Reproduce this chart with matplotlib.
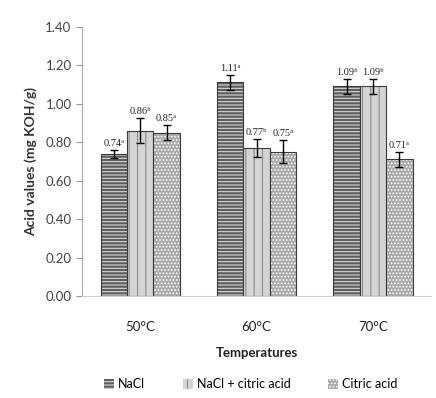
import matplotlib.pyplot as plt
import numpy as np
from matplotlib.patches import Patch

temps = ["50°C", "60°C", "70°C"]
series = ["NaCl", "NaCl + citric acid", "Citric acid"]
nacl = [0.74, 1.11, 1.09]
nacl_citric = [0.86, 0.77, 1.09]
citric = [0.85, 0.75, 0.71]
nacl_err = [0.02, 0.04, 0.04]
nacl_citric_err = [0.065, 0.045, 0.04]
citric_err = [0.04, 0.06, 0.04]
nacl_lbl = ["0.74ᵃ", "1.11ᵃ", "1.09ᵇ"]
nacl_citric_lbl = ["0.86ᵇ", "0.77ᵇ", "1.09ᵇ"]
citric_lbl = ["0.85ᵃ", "0.75ᵃ", "0.71ᵃ"]

styles = [
    dict(face="#5e5e5e", hatch="-----", hcolor="#d8d8d8"),
    dict(face="#d4d4d4", hatch="||", hcolor="#8c8c8c"),
    dict(face="#a9a9a9", hatch=".....", hcolor="white"),
]

plt.rcParams["hatch.linewidth"] = 0.8
plt.rcParams["font.family"] = ["Lato", "DejaVu Sans"]

fig = plt.figure(figsize=(4.36, 3.98), dpi=100)
ax = fig.add_axes([0.188, 0.256, 0.801, 0.677])

x = np.arange(len(temps))
w = 0.227
values = [nacl, nacl_citric, citric]
errs = [nacl_err, nacl_citric_err, citric_err]
labels = [nacl_lbl, nacl_citric_lbl, citric_lbl]

for i, (vals, err, lbl, st) in enumerate(zip(values, errs, labels, styles)):
    pos = x + (i - 1) * w
    ax.bar(pos, vals, w, color=st["face"], edgecolor=st["hcolor"],
           hatch=st["hatch"], linewidth=0)
    ax.bar(pos, vals, w, fill=False, edgecolor="#3a3a3a", linewidth=0.8)
    ax.errorbar(pos, vals, yerr=err, fmt="none", ecolor="black",
                elinewidth=1.0, capsize=3, capthick=1.0)
    for p, v, e, t in zip(pos, vals, err, lbl):
        ax.text(p, v + e + 0.01, t, ha="center", va="bottom", fontsize=7.5,
                family="Liberation Serif", color="#222222")

ax.set_xlim(-0.5, 2.5)
ax.set_ylim(0, 1.4)
ax.set_yticks(np.arange(0, 1.41, 0.2))
ax.set_yticklabels([f"{v:.2f}" for v in np.arange(0, 1.41, 0.2)])
ax.set_xticks(x)
ax.set_xticklabels(temps)
ax.tick_params(axis="y", length=4, color="#999999", labelsize=9.5,
               labelcolor="#444444")
ax.tick_params(axis="x", length=0, labelsize=9.5, labelcolor="#222222", pad=18)
for s in ["top", "right"]:
    ax.spines[s].set_visible(False)
ax.spines["left"].set_color("#aaaaaa")
ax.spines["bottom"].set_color("#cccccc")

ax.set_ylabel("Acid values (mg KOH/g)", fontsize=10, fontweight="bold",
              color="#333333", labelpad=6)
ax.set_xlabel("Temperatures", fontsize=9.5, fontweight="bold",
              color="#222222", labelpad=10)

handles = [Patch(facecolor=st["face"], edgecolor=st["hcolor"], hatch=st["hatch"],
                 linewidth=0) for st in styles]
leg = fig.legend(handles, series, loc="center", bbox_to_anchor=(0.575, 0.035),
                 ncol=3, frameon=False, fontsize=9, handlelength=0.8,
                 handleheight=0.8, handletextpad=0.3, columnspacing=3.0)

fig.savefig("out.png", dpi=100)
